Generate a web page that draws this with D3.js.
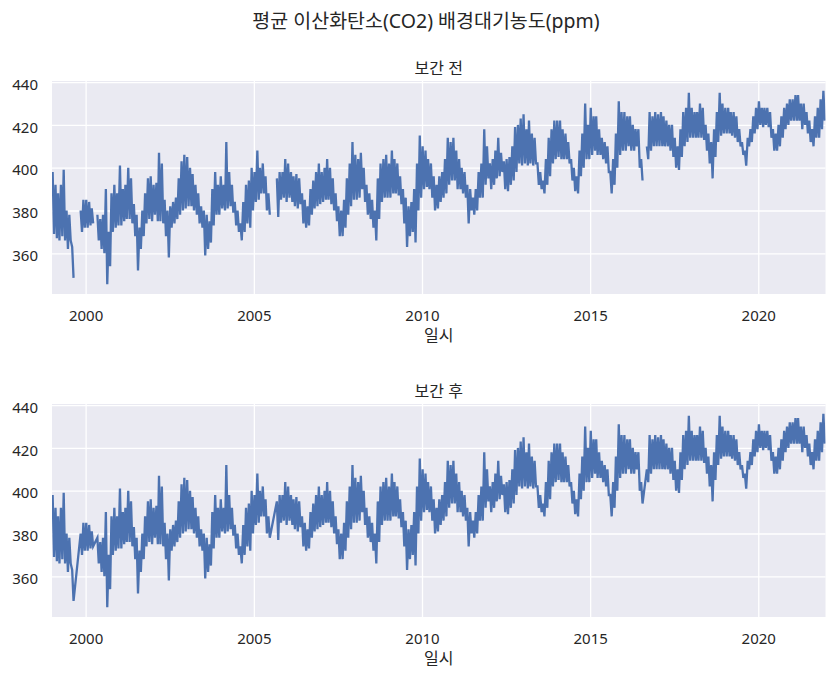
<!DOCTYPE html>
<html>
<head>
<meta charset="utf-8">
<script src="https://cdn.jsdelivr.net/npm/d3@7"></script>
<style>
  body { margin: 0; background: #fff; }
  text { font-family: "Noto Sans", "Noto Sans CJK KR", sans-serif; fill: #262626; }
</style>
</head>
<body>
<svg id="chart" width="836" height="678"></svg>
<script>
// monthly envelopes (ppm), null = no data that month
const years = [1999, 2000, 2001, 2002, 2003, 2004, 2005, 2006, 2007, 2008, 2009, 2010,
               2011, 2012, 2013, 2014, 2015, 2016, 2017, 2018, 2019, 2020, 2021];

const monthHigh = [
  [398, 392, 388, 392, 399, 380, 378, 363, null, null, 380, 385],
  [385, 384, 381, null, 378, 376, 378, 390, 370, 388, 392, 388],
  [401, 390, 392, 400, 395, 383, 378, 372, 380, 388, 395, 396],
  [392, 393, 407, 402, 385, 380, 382, 384, 386, 395, 403, 406],
  [405, 400, 397, 392, 388, 382, 380, 378, 375, 390, 398, 392],
  [396, 392, 412, 398, 392, 384, 380, 374, 384, 392, 394, 400],
  [398, 408, 400, 402, 396, 388, null, null, 395, 398, 398, 404],
  [402, 398, 396, 397, 395, 388, 385, 382, 390, 394, 398, 402],
  [398, 400, 404, 400, 395, 388, 382, 380, 385, 395, 402, 412],
  [406, 404, 407, 400, 392, 388, 385, 380, 395, 402, 404, 406],
  [402, 408, 404, 402, 396, 390, 386, 382, 384, 390, 402, 415],
  [410, 408, 404, 402, 396, 392, 396, 398, 404, 414, 412, 414],
  [408, 404, 400, 398, 392, 390, 386, 390, 398, 402, 418, 410],
  [402, 404, 408, 414, 407, 403, 404, 405, 410, 419, 420, 423],
  [425, 418, 422, 416, 414, 402, 398, 394, 404, 414, 418, 422],
  [422, 422, 418, 416, 412, 404, 400, 396, 408, 416, 430, 420],
  [428, 424, 424, 418, 414, 412, 410, 398, 404, 416, 431, 426],
  [426, 424, 424, 420, 418, 418, 404, null, 410, 426, 424, 426],
  [425, 426, 424, 422, 420, 420, 414, 410, 418, 426, 428, 435],
  [428, 426, 426, 430, 428, 420, 416, 412, 418, 426, 435, 430],
  [428, 428, 426, 426, 424, 418, 412, 408, 414, 418, 424, 428],
  [431, 428, 428, 428, 426, 418, 416, 420, 424, 428, 430, 432],
  [432, 434, 434, 430, 430, 426, 422, 418, 424, 428, 432, 436]
];

const monthLow = [
  [369, 367, 366, 368, 366, 362, 366, 348.5, null, null, 370, 372],
  [372, 373, 374, null, 366, 362, 360, 345.5, 354, 370, 372, 373],
  [373, 375, 376, 376, 374, 368, 352, 362, 368, 374, 376, 375],
  [378, 375, 375, 374, 368, 358, 372, 374, 376, 378, 380, 381],
  [382, 382, 380, 378, 374, 372, 359, 362, 365, 373, 378, 378],
  [381, 380, 381, 382, 379, 373, 370, 366, 370, 374, 372, 380],
  [384, 385, 388, 388, 380, 378, null, null, 377, 385, 386, 384],
  [386, 384, 382, 381, 383, 374, 372, 373, 378, 381, 382, 383],
  [384, 385, 385, 383, 380, 375, 368, 368, 372, 378, 382, 385],
  [385, 386, 390, 384, 378, 376, 372, 366, 376, 384, 386, 386],
  [386, 388, 388, 387, 383, 374, 363, 368, 370, 365, 380, 386],
  [390, 391, 390, 386, 380, 381, 384, 386, 388, 392, 394, 394],
  [390, 390, 388, 386, 374, 380, 378, 380, 386, 386, 392, 395],
  [390, 392, 395, 396, 398, 390, 389, 392, 394, 398, 402, 401],
  [402, 401, 402, 401, 402, 392, 390, 388, 392, 396, 402, 404],
  [405, 404, 404, 404, 402, 394, 389, 388, 396, 400, 404, 404],
  [406, 408, 406, 406, 404, 402, 398, 388, 392, 400, 406, 408],
  [408, 410, 408, 408, 410, 400, 394, null, 404, 408, 410, 410],
  [410, 410, 410, 410, 408, 405, 400, 399, 405, 410, 412, 414],
  [414, 414, 414, 414, 413, 408, 402, 395, 405, 412, 415, 416],
  [416, 416, 415, 414, 412, 410, 406, 401, 410, 412, 416, 418],
  [420, 419, 420, 419, 414, 408, 408, 410, 414, 418, 420, 422],
  [422, 422, 422, 418, 420, 416, 412, 410, 414, 414, 418, 422]
];

const xTickYears = [2000, 2005, 2010, 2015, 2020];
const yTicks = [360, 380, 400, 420, 440];

const mainTitle = "평균 이산화탄소(CO2) 배경대기농도(ppm)";
const panelTitles = ["보간 전", "보간 후"];
const xLabel = "일시";

const left = 52, right = 825.5;
const panels = [
  { title: panelTitles[0], top: 81, bottom: 294, bridgeGaps: false },
  { title: panelTitles[1], top: 404, bottom: 617, bridgeGaps: true }
];
const lineColor = "#4C72B0";
const faceColor = "#EAEAF2";

// two points per month: the high early in the month, the low late in it
const points = [];
years.forEach((yr, i) => {
  for (let m = 0; m < 12; m++) {
    points.push({ date: new Date(yr, m, 8), v: monthHigh[i][m] });
    points.push({ date: new Date(yr, m, 23), v: monthLow[i][m] });
  }
});

const valid = points.filter((d) => d.v != null);
const [vMin, vMax] = d3.extent(valid, (d) => d.v);
const pad = (vMax - vMin) * 0.05;

const x = d3
  .scaleTime()
  .domain([new Date(1999, 0, 1), new Date(2021, 11, 31)])
  .range([left, right]);

const svg = d3.select("#chart");

svg
  .append("text")
  .attr("x", 426)
  .attr("y", 28)
  .attr("text-anchor", "middle")
  .style("font-size", "19.5px")
  .text(mainTitle);

panels.forEach((p, i) => {
  const y = d3
    .scaleLinear()
    .domain([vMin - pad, vMax + pad])
    .range([p.bottom, p.top]);

  const g = svg.append("g");
  const h = p.bottom - p.top;

  g.append("rect")
    .attr("x", left)
    .attr("y", p.top)
    .attr("width", right - left)
    .attr("height", h)
    .attr("fill", faceColor);

  // grid + tick labels via axes
  const xAxis = g
    .append("g")
    .attr("transform", `translate(0,${p.bottom})`)
    .call(
      d3
        .axisBottom(x)
        .tickValues(xTickYears.map((yr) => new Date(yr, 0, 1)))
        .tickFormat(d3.timeFormat("%Y"))
        .tickSize(-h)
        .tickPadding(16.5)
    );

  const yAxis = g
    .append("g")
    .attr("transform", `translate(${left},0)`)
    .call(
      d3
        .axisLeft(y)
        .tickValues(yTicks)
        .tickSize(-(right - left))
        .tickPadding(14)
    );

  [xAxis, yAxis].forEach((a) => {
    a.select(".domain").remove();
    a.selectAll(".tick line").attr("stroke", "#fff").attr("stroke-width", 1.3);
    a.selectAll(".tick text")
      .style("font-size", "15px")
      .attr("fill", "#262626");
  });
  yAxis.selectAll(".tick text").attr("dy", "0.48em");

  const clipId = `clip-${i}`;
  svg
    .append("clipPath")
    .attr("id", clipId)
    .append("rect")
    .attr("x", left)
    .attr("y", p.top)
    .attr("width", right - left)
    .attr("height", h);

  const line = d3
    .line()
    .x((d) => x(d.date))
    .y((d) => y(d.v));

  if (!p.bridgeGaps) line.defined((d) => d.v != null);

  g.append("path")
    .datum(p.bridgeGaps ? valid : points)
    .attr("d", line)
    .attr("fill", "none")
    .attr("stroke", lineColor)
    .attr("stroke-width", 2.3)
    .attr("stroke-linejoin", "miter")
    .attr("clip-path", `url(#${clipId})`);

  g.append("text")
    .attr("x", (left + right) / 2)
    .attr("y", p.top - 7.5)
    .attr("text-anchor", "middle")
    .style("font-size", "16px")
    .text(p.title);

  g.append("text")
    .attr("x", (left + right) / 2)
    .attr("y", p.bottom + 47)
    .attr("text-anchor", "middle")
    .style("font-size", "16px")
    .text(xLabel);
});
</script>
</body>
</html>
